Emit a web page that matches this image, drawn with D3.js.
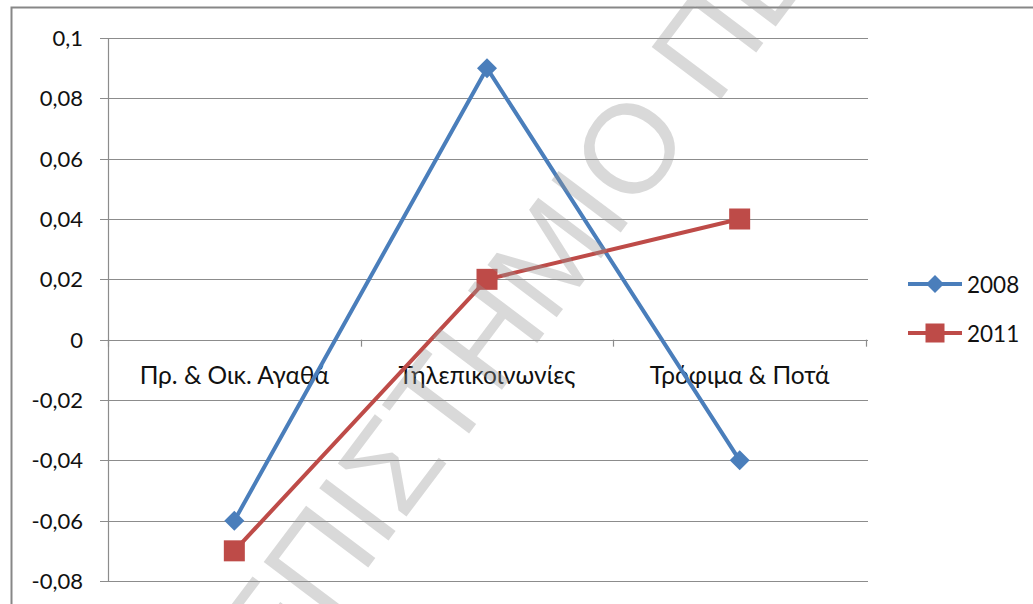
<!DOCTYPE html>
<html>
<head>
<meta charset="utf-8">
<script src="https://cdn.jsdelivr.net/npm/d3@7"></script>
<style>
  html, body { margin: 0; padding: 0; background: #fff; }
  svg { display: block; }
  text { font-family: Lato, "Open Sans", "Noto Sans", sans-serif; }
</style>
</head>
<body>
<svg id="chart" width="1033" height="604"></svg>
<script>
// ---- data ----
const categories = ["Πρ. & Οικ. Αγαθά", "Τηλεπικοινωνίες", "Τρόφιμα & Ποτά"];
const series2008 = [-0.06, 0.09, -0.04];
const series2011 = [-0.07, 0.02, 0.04];
const seriesNames = ["2008", "2011"];
const yTicks = [0.1, 0.08, 0.06, 0.04, 0.02, 0, -0.02, -0.04, -0.06, -0.08];
const titleText = "Μεταβολή μεριδίου";
const watermarkText = "ΠΑΝΕΠΙΣΤΗΜΙΟ ΠΕΙΡΑΙΩΣ";

const colors = ["#4a7ebb", "#be4b48"];

const svg = d3.select("#chart");

// cropped title at very top
svg.append("text")
  .attr("x", 18).attr("y", -4)
  .attr("font-size", 24).attr("font-weight", "bold")
  .attr("fill", "#000")
  .text(titleText);

// outer frame
svg.append("rect")
  .attr("x", 11.5).attr("y", 7.5)
  .attr("width", 1040).attr("height", 620)
  .attr("fill", "none").attr("stroke", "#878787").attr("stroke-width", 2);

const y = d3.scaleLinear().domain([-0.08, 0.1]).range([581, 38]);
const x = d3.scaleBand().domain(categories).range([108, 866]);
const cx = c => x(c) + x.bandwidth() / 2;

const fmt = v => (v === 0 ? "0" : String(+v.toFixed(2))).replace(".", ",");

// gridlines
svg.append("g").selectAll("line").data(yTicks).join("line")
  .attr("x1", 100).attr("x2", 868)
  .attr("y1", d => Math.round(y(d)) + 0.5).attr("y2", d => Math.round(y(d)) + 0.5)
  .attr("stroke", "#8c8c8c").attr("stroke-width", 1.2);

// y axis line
svg.append("line")
  .attr("x1", 108.5).attr("x2", 108.5)
  .attr("y1", y(0.1)).attr("y2", y(-0.08))
  .attr("stroke", "#8c8c8c").attr("stroke-width", 1.2);

// y tick labels
svg.append("g").selectAll("text").data(yTicks).join("text")
  .attr("x", 83).attr("y", d => y(d) + 8)
  .attr("text-anchor", "end")
  .attr("font-size", 22).attr("fill", "#111")
  .text(d => fmt(d));

// x category ticks on zero line
const bounds = [108, 866].concat(categories.slice(1).map(c => x(c)));
svg.append("g").selectAll("line").data(bounds).join("line")
  .attr("x1", d => Math.round(d) + 0.5).attr("x2", d => Math.round(d) + 0.5)
  .attr("y1", y(0)).attr("y2", y(0) + 7)
  .attr("stroke", "#8c8c8c").attr("stroke-width", 1.2);

// category labels
svg.append("g").selectAll("text").data(categories).join("text")
  .attr("x", d => cx(d)).attr("y", 384)
  .attr("text-anchor", "middle")
  .attr("font-size", 24.5).attr("fill", "#111")
  .text(d => d);

const seriesData = [series2008, series2011];
const line = d3.line().x((d, i) => cx(categories[i])).y(d => y(d));

seriesData.forEach((s, k) => {
  svg.append("path").datum(s)
    .attr("d", line).attr("fill", "none")
    .attr("stroke", colors[k]).attr("stroke-width", 4)
    .attr("stroke-linejoin", "round");
});

function marker(g, k, px, py, big) {
  if (k === 0) {
    g.append("path")
      .attr("d", d3.symbol().type(d3.symbolSquare).size(big ? 200 : 162)())
      .attr("transform", `translate(${px},${py}) rotate(45)`)
      .attr("fill", colors[0]);
  } else {
    const s = big ? 21 : 19;
    g.append("rect")
      .attr("x", px - s / 2).attr("y", py - s / 2)
      .attr("width", s).attr("height", s)
      .attr("fill", colors[1]);
  }
}
const mg = svg.append("g");
seriesData.forEach((s, k) => s.forEach((v, i) => marker(mg, k, cx(categories[i]), y(v), true)));

// legend
const legY = [284, 333];
seriesNames.forEach((n, k) => {
  const g = svg.append("g");
  g.append("line").attr("x1", 908).attr("x2", 962)
    .attr("y1", legY[k]).attr("y2", legY[k])
    .attr("stroke", colors[k]).attr("stroke-width", 4);
  marker(g, k, 935, legY[k], false);
  g.append("text").attr("x", 967).attr("y", legY[k] + 9)
    .attr("font-size", 22.5).attr("fill", "#111").text(n);
});

// watermark
svg.append("text")
  .attr("transform", "translate(116,902) rotate(-53)")
  .attr("font-size", 126)
  .attr("fill", "rgba(150,150,150,0.36)")
  .style("font-family", "'Liberation Sans', Arial, sans-serif")
  .text(watermarkText);
</script>
</body>
</html>
